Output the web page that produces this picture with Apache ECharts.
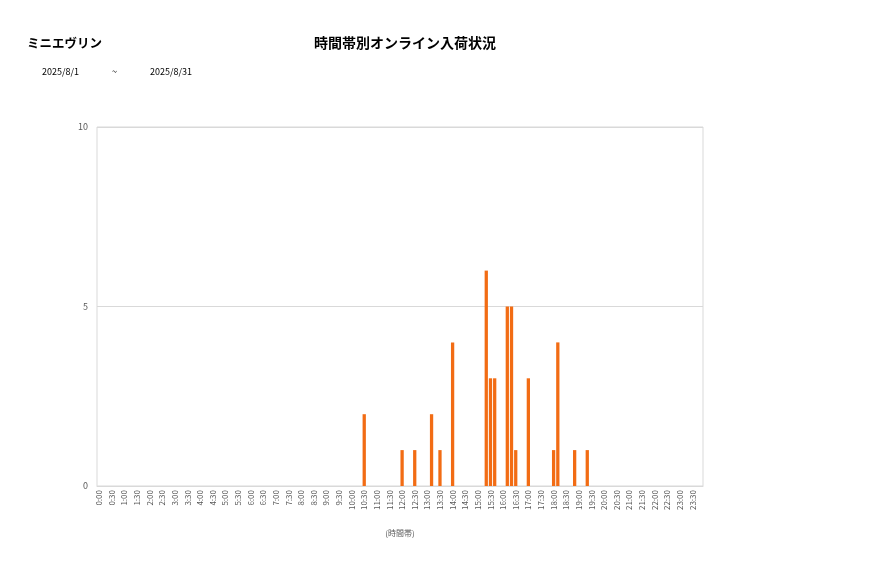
<!DOCTYPE html>
<html>
<head>
<meta charset="utf-8">
<script src="https://cdn.jsdelivr.net/npm/echarts@6/dist/echarts.min.js"></script>
<style>
  html, body { margin: 0; padding: 0; background: #fff; }
  #chart { width: 877px; height: 578px; }
</style>
</head>
<body>
<div id="chart"></div>
<script>
// 10分刻みの時間帯 (0:00 ~ 23:50)
var slots = [];
for (var h = 0; h < 24; h++) {
    for (var m = 0; m < 60; m += 10) {
        slots.push(h + ':' + (m < 10 ? '0' + m : m));
    }
}

// 入荷のあった時間帯と件数
var arrivalTimes = ['10:30', '12:00', '12:30', '13:10', '13:30', '14:00',
                    '15:20', '15:30', '15:40', '16:10', '16:20', '16:30',
                    '17:00', '18:00', '18:10', '18:50', '19:20'];
var arrivalCounts = [2, 1, 1, 2, 1, 4,
                     6, 3, 3, 5, 5, 1,
                     3, 1, 4, 1, 1];

var yTicks = [0, 5, 10];

var counts = slots.map(function () { return 0; });
for (var i = 0; i < arrivalTimes.length; i++) {
    counts[slots.indexOf(arrivalTimes[i])] = arrivalCounts[i];
}

var font = '"Noto Sans CJK JP", "Noto Sans", sans-serif';
var myChart = echarts.init(document.getElementById('chart'));
var options = {
    backgroundColor: '#fff',
    animation: false,
    textStyle: { fontFamily: font },
    title: [
        {
            text: 'ミニエヴリン',
            left: 27, top: 37, padding: 0,
            textStyle: { fontSize: 12.5, fontWeight: 'bold', color: '#000', fontFamily: font }
        },
        {
            text: '時間帯別オンライン入荷状況',
            left: 405, top: 36, padding: 0, textAlign: 'center',
            textStyle: { fontSize: 14, fontWeight: 'bold', color: '#000', fontFamily: font }
        },
        {
            text: '2025/8/1',
            left: 42, top: 67, padding: 0,
            textStyle: { fontSize: 9, fontWeight: 'normal', color: '#000', fontFamily: font }
        },
        {
            text: '~',
            left: 112, top: 67, padding: 0,
            textStyle: { fontSize: 9, fontWeight: 'normal', color: '#000', fontFamily: font }
        },
        {
            text: '2025/8/31',
            left: 150, top: 67, padding: 0,
            textStyle: { fontSize: 9, fontWeight: 'normal', color: '#000', fontFamily: font }
        }
    ],
    grid: {
        left: 97, right: 174, top: 127, bottom: 92,
        show: true, borderColor: '#d9d9d9', borderWidth: 1
    },
    xAxis: {
        type: 'category',
        data: slots,
        name: '(時間帯)',
        nameLocation: 'middle',
        nameGap: 43,
        nameTextStyle: { fontSize: 8, color: '#595959' },
        axisLine: { lineStyle: { color: '#d9d9d9' } },
        axisTick: { show: false },
        axisLabel: {
            interval: 2, rotate: 90, fontSize: 8, color: '#595959', margin: 4
        },
        splitLine: { show: false }
    },
    yAxis: {
        type: 'value',
        min: yTicks[0],
        max: yTicks[yTicks.length - 1],
        interval: 5,
        axisLine: { show: false },
        axisTick: { show: false },
        axisLabel: { fontSize: 9, color: '#595959', margin: 9 },
        splitLine: { lineStyle: { color: '#d9d9d9' } }
    },
    series: [{
        name: '入荷数',
        type: 'bar',
        data: counts,
        barCategoryGap: '22%',
        itemStyle: { color: '#f26c14' }
    }]
};
myChart.setOption(options, true);
</script>
</body>
</html>
